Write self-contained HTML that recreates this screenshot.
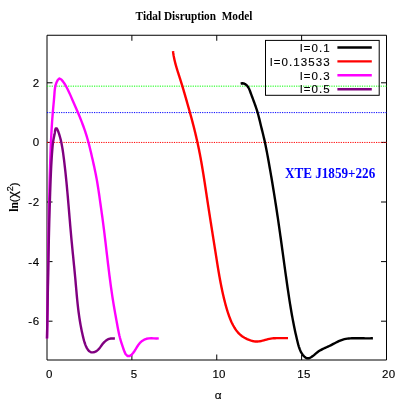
<!DOCTYPE html>
<html><head><meta charset="utf-8"><title>Tidal Disruption Model</title>
<style>html,body{margin:0;padding:0;background:#fff;}svg{display:block;will-change:transform;}</style></head>
<body>
<svg width="409" height="409" viewBox="0 0 409 409">
<path d="M47.00 35.25H386.50V360.00H47.00Z" fill="none" stroke="#000" stroke-width="1"/>
<path d="M131.88 360.00v-5.5M131.88 35.25v5.5M216.75 360.00v-5.5M216.75 35.25v5.5M301.62 360.00v-5.5M301.62 35.25v5.5M47.00 321.20h5.5M386.50 321.20h-5.5M47.00 261.60h5.5M386.50 261.60h-5.5M47.00 202.00h5.5M386.50 202.00h-5.5M47.00 142.40h5.5M386.50 142.40h-5.5M47.00 82.80h5.5M386.50 82.80h-5.5" stroke="#000" stroke-width="1" fill="none"/>
<line x1="47.0" x2="386.5" y1="86.15" y2="86.15" stroke="#00ff00" stroke-width="1" stroke-dasharray="1.2 1.15"/>
<line x1="47.0" x2="386.5" y1="112.60" y2="112.60" stroke="#0000ff" stroke-width="1" stroke-dasharray="1.2 1.15"/>
<line x1="47.0" x2="386.5" y1="142.45" y2="142.45" stroke="#ff0000" stroke-width="1" stroke-dasharray="1.2 1.15"/>
<path d="M240.64 83.59 L242.18 83.24 L243.68 83.45 L245.07 84.06 L246.30 84.96 L247.34 86.02 L248.19 87.22 L248.91 88.51 L249.53 89.88 L250.08 91.30 L250.60 92.73 L251.13 94.16 L251.66 95.58 L252.19 97.00 L252.72 98.42 L253.25 99.83 L253.77 101.24 L254.29 102.65 L254.80 104.06 L255.31 105.48 L255.80 106.89 L256.28 108.31 L256.74 109.73 L257.19 111.16 L257.62 112.60 L258.03 114.04 L258.43 115.49 L258.80 116.95 L259.17 118.41 L259.53 119.88 L259.88 121.34 L260.23 122.81 L260.58 124.28 L260.94 125.74 L261.30 127.20 L261.66 128.66 L262.03 130.12 L262.39 131.58 L262.76 133.04 L263.12 134.50 L263.47 135.96 L263.82 137.42 L264.16 138.89 L264.49 140.35 L264.82 141.82 L265.13 143.29 L265.44 144.76 L265.74 146.23 L266.04 147.71 L266.33 149.18 L266.62 150.66 L266.90 152.14 L267.18 153.62 L267.46 155.10 L267.73 156.58 L268.00 158.06 L268.27 159.54 L268.54 161.02 L268.81 162.50 L269.07 163.98 L269.33 165.46 L269.59 166.94 L269.86 168.42 L270.11 169.91 L270.37 171.39 L270.63 172.87 L270.88 174.35 L271.14 175.84 L271.39 177.32 L271.64 178.80 L271.89 180.29 L272.14 181.77 L272.39 183.25 L272.63 184.74 L272.88 186.22 L273.12 187.71 L273.36 189.19 L273.61 190.68 L273.84 192.16 L274.08 193.65 L274.32 195.13 L274.56 196.62 L274.79 198.10 L275.03 199.59 L275.26 201.07 L275.49 202.56 L275.72 204.05 L275.95 205.53 L276.18 207.02 L276.41 208.51 L276.63 209.99 L276.86 211.48 L277.08 212.97 L277.30 214.46 L277.53 215.95 L277.75 217.43 L277.97 218.92 L278.18 220.41 L278.40 221.90 L278.62 223.39 L278.83 224.88 L279.05 226.37 L279.26 227.85 L279.47 229.34 L279.68 230.83 L279.90 232.32 L280.11 233.81 L280.31 235.30 L280.52 236.79 L280.73 238.28 L280.94 239.77 L281.14 241.26 L281.35 242.75 L281.56 244.25 L281.76 245.74 L281.97 247.23 L282.17 248.72 L282.38 250.21 L282.58 251.70 L282.78 253.19 L282.99 254.68 L283.19 256.17 L283.40 257.66 L283.60 259.15 L283.81 260.64 L284.01 262.13 L284.21 263.62 L284.42 265.11 L284.63 266.60 L284.83 268.09 L285.04 269.59 L285.24 271.08 L285.45 272.57 L285.66 274.06 L285.87 275.55 L286.08 277.03 L286.29 278.52 L286.50 280.01 L286.71 281.50 L286.92 282.99 L287.13 284.48 L287.35 285.97 L287.56 287.46 L287.78 288.95 L288.00 290.43 L288.22 291.92 L288.44 293.41 L288.66 294.90 L288.89 296.38 L289.11 297.87 L289.34 299.36 L289.57 300.84 L289.81 302.33 L290.04 303.81 L290.28 305.30 L290.53 306.78 L290.77 308.26 L291.02 309.75 L291.27 311.23 L291.53 312.71 L291.79 314.19 L292.05 315.67 L292.32 317.15 L292.60 318.63 L292.87 320.11 L293.15 321.59 L293.44 323.07 L293.73 324.54 L294.02 326.02 L294.33 327.50 L294.63 328.97 L294.94 330.44 L295.26 331.92 L295.58 333.39 L295.91 334.86 L296.25 336.33 L296.59 337.80 L296.93 339.27 L297.29 340.74 L297.65 342.20 L298.02 343.67 L298.41 345.13 L298.83 346.57 L299.29 348.00 L299.81 349.40 L300.39 350.78 L301.06 352.12 L301.82 353.42 L302.67 354.67 L303.65 355.88 L304.74 356.98 L305.94 357.84 L307.24 358.31 L308.62 358.28 L310.04 357.80 L311.44 357.01 L312.77 356.07 L313.99 355.09 L315.15 354.09 L316.28 353.12 L317.43 352.20 L318.63 351.35 L319.87 350.56 L321.15 349.84 L322.46 349.15 L323.80 348.50 L325.16 347.86 L326.54 347.24 L327.92 346.61 L329.29 345.97 L330.66 345.30 L332.02 344.61 L333.37 343.90 L334.71 343.19 L336.06 342.49 L337.41 341.81 L338.77 341.16 L340.14 340.57 L341.54 340.03 L342.95 339.57 L344.39 339.19 L345.84 338.90 L347.32 338.67 L348.82 338.50 L350.32 338.39 L351.83 338.31 L353.34 338.27 L354.85 338.24 L356.36 338.23 L357.87 338.24 L359.37 338.25 L360.87 338.27 L362.37 338.29 L363.87 338.31 L365.37 338.33 L366.88 338.34 L368.38 338.34 L369.89 338.33 L371.39 338.31 L372.91 338.26" fill="none" stroke="#000" stroke-width="2.4" stroke-linejoin="round" stroke-linecap="butt"/>
<path d="M173.02 51.19 L173.19 52.63 L173.39 54.05 L173.61 55.47 L173.87 56.89 L174.15 58.29 L174.45 59.70 L174.77 61.09 L175.12 62.48 L175.48 63.87 L175.85 65.25 L176.25 66.63 L176.65 68.00 L177.06 69.38 L177.49 70.75 L177.92 72.12 L178.35 73.48 L178.79 74.85 L179.23 76.22 L179.68 77.58 L180.11 78.95 L180.55 80.32 L180.98 81.69 L181.41 83.06 L181.83 84.43 L182.25 85.80 L182.67 87.17 L183.08 88.55 L183.49 89.92 L183.89 91.30 L184.29 92.67 L184.70 94.05 L185.09 95.43 L185.49 96.81 L185.89 98.19 L186.28 99.57 L186.67 100.95 L187.06 102.33 L187.45 103.71 L187.84 105.09 L188.23 106.47 L188.62 107.85 L189.01 109.23 L189.40 110.61 L189.78 111.99 L190.17 113.38 L190.55 114.76 L190.93 116.14 L191.31 117.53 L191.68 118.91 L192.05 120.30 L192.42 121.68 L192.79 123.07 L193.15 124.46 L193.51 125.85 L193.86 127.24 L194.21 128.63 L194.56 130.02 L194.90 131.42 L195.24 132.81 L195.57 134.21 L195.90 135.60 L196.23 137.00 L196.55 138.40 L196.87 139.80 L197.18 141.20 L197.49 142.60 L197.80 144.00 L198.10 145.40 L198.39 146.80 L198.68 148.21 L198.97 149.61 L199.25 151.02 L199.53 152.43 L199.81 153.83 L200.08 155.24 L200.34 156.65 L200.61 158.06 L200.86 159.47 L201.12 160.89 L201.37 162.30 L201.62 163.71 L201.86 165.13 L202.10 166.54 L202.34 167.95 L202.58 169.37 L202.81 170.78 L203.05 172.20 L203.28 173.62 L203.50 175.03 L203.73 176.45 L203.95 177.87 L204.17 179.29 L204.39 180.71 L204.61 182.12 L204.83 183.54 L205.05 184.96 L205.26 186.38 L205.48 187.80 L205.69 189.22 L205.91 190.64 L206.12 192.06 L206.34 193.48 L206.55 194.89 L206.76 196.31 L206.98 197.73 L207.19 199.15 L207.41 200.57 L207.62 201.99 L207.84 203.40 L208.05 204.82 L208.27 206.24 L208.49 207.66 L208.71 209.08 L208.93 210.49 L209.15 211.91 L209.37 213.33 L209.59 214.74 L209.81 216.16 L210.03 217.58 L210.25 218.99 L210.47 220.41 L210.70 221.83 L210.92 223.24 L211.14 224.66 L211.36 226.08 L211.59 227.49 L211.81 228.91 L212.03 230.33 L212.26 231.74 L212.48 233.16 L212.71 234.58 L212.93 235.99 L213.15 237.41 L213.38 238.83 L213.60 240.24 L213.83 241.66 L214.05 243.08 L214.28 244.50 L214.50 245.91 L214.72 247.33 L214.95 248.75 L215.17 250.17 L215.40 251.59 L215.62 253.00 L215.84 254.42 L216.07 255.84 L216.29 257.26 L216.51 258.68 L216.74 260.10 L216.96 261.52 L217.19 262.94 L217.41 264.35 L217.64 265.77 L217.87 267.19 L218.11 268.61 L218.34 270.02 L218.58 271.44 L218.82 272.85 L219.06 274.27 L219.31 275.68 L219.56 277.09 L219.82 278.51 L220.07 279.92 L220.34 281.33 L220.60 282.73 L220.87 284.14 L221.15 285.55 L221.43 286.95 L221.72 288.35 L222.01 289.75 L222.31 291.15 L222.61 292.55 L222.92 293.95 L223.24 295.34 L223.57 296.74 L223.90 298.13 L224.24 299.52 L224.59 300.91 L224.94 302.30 L225.31 303.69 L225.68 305.07 L226.07 306.46 L226.46 307.84 L226.86 309.23 L227.28 310.61 L227.70 311.99 L228.15 313.36 L228.61 314.73 L229.09 316.09 L229.59 317.44 L230.11 318.78 L230.65 320.11 L231.22 321.43 L231.82 322.73 L232.45 324.01 L233.11 325.28 L233.81 326.53 L234.53 327.76 L235.30 328.96 L236.11 330.13 L236.97 331.27 L237.87 332.36 L238.83 333.40 L239.85 334.39 L240.93 335.33 L242.07 336.19 L243.27 337.00 L244.53 337.74 L245.82 338.43 L247.14 339.07 L248.48 339.66 L249.84 340.19 L251.21 340.64 L252.59 341.02 L253.98 341.29 L255.39 341.46 L256.79 341.50 L258.21 341.43 L259.62 341.26 L261.02 341.00 L262.42 340.68 L263.82 340.31 L265.21 339.92 L266.61 339.54 L268.00 339.17 L269.40 338.85 L270.81 338.59 L272.23 338.40 L273.65 338.26 L275.08 338.18 L276.51 338.12 L277.95 338.10 L279.39 338.09 L280.83 338.10 L282.26 338.12 L283.70 338.13 L285.14 338.13 L286.57 338.12 L288.00 338.08" fill="none" stroke="#ff0000" stroke-width="2.4" stroke-linejoin="round" stroke-linecap="butt"/>
<path d="M46.99 338.60 L47.04 336.13 L47.09 333.66 L47.13 331.20 L47.18 328.73 L47.22 326.26 L47.27 323.79 L47.31 321.32 L47.35 318.86 L47.39 316.39 L47.43 313.92 L47.47 311.45 L47.51 308.98 L47.55 306.52 L47.58 304.05 L47.62 301.58 L47.66 299.11 L47.69 296.64 L47.73 294.18 L47.76 291.71 L47.80 289.24 L47.83 286.77 L47.86 284.30 L47.90 281.83 L47.93 279.37 L47.96 276.90 L48.00 274.43 L48.03 271.96 L48.06 269.49 L48.09 267.03 L48.13 264.56 L48.16 262.09 L48.19 259.62 L48.23 257.15 L48.26 254.68 L48.30 252.22 L48.33 249.75 L48.37 247.28 L48.40 244.81 L48.44 242.34 L48.48 239.88 L48.51 237.41 L48.55 234.94 L48.59 232.47 L48.63 230.00 L48.67 227.54 L48.71 225.07 L48.76 222.60 L48.80 220.13 L48.84 217.66 L48.89 215.20 L48.94 212.73 L48.98 210.26 L49.03 207.79 L49.08 205.32 L49.14 202.86 L49.19 200.39 L49.24 197.92 L49.30 195.45 L49.36 192.99 L49.41 190.52 L49.48 188.05 L49.54 185.58 L49.60 183.12 L49.67 180.65 L49.73 178.18 L49.80 175.71 L49.87 173.25 L49.95 170.78 L50.02 168.31 L50.10 165.84 L50.18 163.38 L50.26 160.91 L50.34 158.44 L50.43 155.98 L50.52 153.51 L50.61 151.04 L50.70 148.57 L50.80 146.11 L50.90 143.64 L51.01 141.18 L51.12 138.71 L51.24 136.24 L51.37 133.78 L51.50 131.32 L51.64 128.85 L51.79 126.39 L51.95 123.93 L52.11 121.46 L52.29 119.00 L52.48 116.54 L52.67 114.08 L52.88 111.62 L53.10 109.16 L53.32 106.71 L53.55 104.25 L53.77 101.79 L53.99 99.33 L54.20 96.87 L54.39 94.40 L54.57 91.94 L54.81 89.48 L55.17 87.04 L55.74 84.62 L56.61 82.25 L57.85 79.93 L59.47 78.53 L61.33 79.51 L63.08 81.62 L64.55 83.73 L65.82 85.84 L66.99 87.99 L68.09 90.17 L69.14 92.39 L70.15 94.63 L71.14 96.89 L72.13 99.15 L73.12 101.41 L74.11 103.67 L75.09 105.94 L76.07 108.20 L77.05 110.48 L78.02 112.75 L78.97 115.03 L79.91 117.32 L80.83 119.61 L81.73 121.91 L82.61 124.22 L83.47 126.54 L84.30 128.86 L85.10 131.19 L85.87 133.53 L86.60 135.89 L87.30 138.25 L87.97 140.62 L88.62 143.00 L89.24 145.39 L89.84 147.78 L90.42 150.18 L90.99 152.58 L91.55 154.99 L92.11 157.40 L92.66 159.80 L93.20 162.21 L93.73 164.63 L94.26 167.04 L94.77 169.45 L95.27 171.87 L95.76 174.29 L96.23 176.71 L96.68 179.14 L97.11 181.57 L97.52 184.00 L97.92 186.44 L98.30 188.87 L98.67 191.31 L99.03 193.75 L99.38 196.20 L99.72 198.64 L100.07 201.09 L100.41 203.53 L100.76 205.97 L101.10 208.42 L101.45 210.86 L101.79 213.31 L102.13 215.75 L102.47 218.20 L102.79 220.64 L103.12 223.09 L103.44 225.54 L103.75 227.99 L104.05 230.44 L104.36 232.89 L104.66 235.34 L104.95 237.79 L105.25 240.24 L105.54 242.69 L105.83 245.14 L106.12 247.59 L106.40 250.04 L106.69 252.50 L106.98 254.95 L107.27 257.40 L107.56 259.85 L107.85 262.30 L108.14 264.75 L108.44 267.21 L108.74 269.66 L109.04 272.11 L109.34 274.55 L109.66 277.00 L109.97 279.45 L110.30 281.90 L110.62 284.34 L110.96 286.79 L111.30 289.23 L111.65 291.67 L112.01 294.12 L112.38 296.56 L112.75 299.00 L113.14 301.43 L113.54 303.87 L113.94 306.31 L114.36 308.74 L114.78 311.17 L115.21 313.60 L115.65 316.03 L116.09 318.46 L116.53 320.89 L116.97 323.32 L117.41 325.74 L117.86 328.17 L118.32 330.59 L118.82 333.01 L119.36 335.42 L119.96 337.82 L120.63 340.21 L121.35 342.58 L122.10 344.90 L122.86 347.19 L123.66 349.48 L124.55 351.87 L125.67 354.26 L127.39 355.93 L129.62 356.07 L131.63 354.70 L133.29 352.80 L134.72 350.74 L136.03 348.61 L137.32 346.48 L138.69 344.44 L140.25 342.57 L142.09 340.94 L144.18 339.65 L146.47 338.77 L148.88 338.36 L151.37 338.31 L153.87 338.42 L156.36 338.50 L158.78 338.34" fill="none" stroke="#ff00ff" stroke-width="2.4" stroke-linejoin="round" stroke-linecap="butt"/>
<path d="M47.01 338.60 L47.05 336.63 L47.09 334.67 L47.12 332.70 L47.16 330.73 L47.19 328.77 L47.23 326.80 L47.27 324.83 L47.30 322.87 L47.33 320.90 L47.37 318.93 L47.40 316.97 L47.44 315.00 L47.47 313.03 L47.51 311.07 L47.54 309.10 L47.57 307.13 L47.61 305.17 L47.64 303.20 L47.67 301.23 L47.71 299.27 L47.74 297.30 L47.77 295.33 L47.81 293.37 L47.84 291.40 L47.88 289.43 L47.91 287.46 L47.94 285.50 L47.98 283.53 L48.01 281.56 L48.05 279.60 L48.08 277.63 L48.12 275.66 L48.16 273.70 L48.19 271.73 L48.23 269.76 L48.26 267.80 L48.30 265.83 L48.34 263.86 L48.38 261.90 L48.42 259.93 L48.45 257.96 L48.49 255.99 L48.53 254.03 L48.57 252.06 L48.62 250.09 L48.66 248.13 L48.70 246.16 L48.74 244.19 L48.79 242.23 L48.83 240.26 L48.87 238.29 L48.92 236.33 L48.97 234.36 L49.01 232.39 L49.06 230.43 L49.11 228.46 L49.16 226.49 L49.21 224.53 L49.26 222.56 L49.31 220.60 L49.36 218.63 L49.42 216.66 L49.47 214.70 L49.53 212.73 L49.58 210.76 L49.64 208.80 L49.70 206.83 L49.76 204.87 L49.82 202.90 L49.88 200.93 L49.95 198.97 L50.01 197.00 L50.08 195.04 L50.14 193.07 L50.21 191.11 L50.28 189.14 L50.35 187.18 L50.42 185.21 L50.49 183.24 L50.57 181.28 L50.64 179.31 L50.72 177.35 L50.80 175.38 L50.89 173.42 L50.97 171.45 L51.07 169.49 L51.16 167.52 L51.26 165.56 L51.37 163.59 L51.48 161.63 L51.60 159.66 L51.72 157.70 L51.85 155.74 L51.99 153.77 L52.14 151.81 L52.29 149.84 L52.45 147.88 L52.63 145.92 L52.84 143.96 L53.09 142.02 L53.38 140.08 L53.74 138.16 L54.15 136.26 L54.56 134.34 L54.90 132.38 L55.11 130.36 L55.72 128.40 L56.89 128.42 L57.70 130.21 L58.42 132.05 L59.07 133.93 L59.65 135.82 L60.19 137.73 L60.68 139.64 L61.12 141.55 L61.53 143.48 L61.90 145.41 L62.25 147.34 L62.56 149.28 L62.86 151.23 L63.14 153.17 L63.40 155.12 L63.66 157.07 L63.90 159.02 L64.15 160.97 L64.38 162.92 L64.61 164.88 L64.84 166.83 L65.06 168.78 L65.28 170.74 L65.49 172.69 L65.70 174.65 L65.90 176.60 L66.10 178.56 L66.29 180.52 L66.48 182.47 L66.67 184.43 L66.86 186.39 L67.04 188.35 L67.22 190.30 L67.40 192.26 L67.57 194.22 L67.75 196.18 L67.92 198.14 L68.09 200.10 L68.25 202.06 L68.42 204.02 L68.59 205.98 L68.75 207.94 L68.92 209.90 L69.08 211.86 L69.25 213.83 L69.41 215.79 L69.57 217.75 L69.74 219.71 L69.91 221.67 L70.07 223.63 L70.24 225.59 L70.41 227.55 L70.58 229.51 L70.75 231.47 L70.93 233.43 L71.10 235.39 L71.28 237.35 L71.46 239.31 L71.65 241.27 L71.83 243.23 L72.02 245.18 L72.21 247.14 L72.41 249.10 L72.60 251.06 L72.79 253.02 L72.99 254.97 L73.19 256.93 L73.38 258.89 L73.58 260.84 L73.77 262.80 L73.97 264.76 L74.16 266.72 L74.35 268.67 L74.54 270.63 L74.73 272.59 L74.92 274.55 L75.10 276.50 L75.28 278.46 L75.46 280.42 L75.63 282.38 L75.80 284.34 L75.98 286.29 L76.15 288.25 L76.32 290.21 L76.50 292.17 L76.67 294.13 L76.85 296.08 L77.04 298.04 L77.23 300.00 L77.43 301.96 L77.63 303.91 L77.85 305.87 L78.07 307.82 L78.31 309.78 L78.55 311.73 L78.81 313.69 L79.08 315.64 L79.36 317.59 L79.66 319.54 L79.98 321.49 L80.31 323.44 L80.65 325.38 L81.01 327.32 L81.39 329.25 L81.78 331.17 L82.19 333.09 L82.62 334.99 L83.06 336.89 L83.52 338.77 L84.01 340.64 L84.57 342.50 L85.21 344.37 L85.98 346.24 L86.89 348.11 L88.00 349.87 L89.34 351.31 L90.95 352.19 L92.83 352.39 L94.75 351.99 L96.49 351.12 L97.97 349.92 L99.28 348.47 L100.49 346.86 L101.67 345.21 L102.90 343.59 L104.24 342.10 L105.70 340.79 L107.29 339.72 L109.04 338.94 L110.95 338.49 L112.94 338.35 L114.89 338.43" fill="none" stroke="#800080" stroke-width="2.4" stroke-linejoin="round" stroke-linecap="butt"/>
<g font-family="'Liberation Sans', sans-serif" font-size="11.5" fill="#000" stroke="#000" stroke-width="0.15">
<text x="49.3" y="378.2" text-anchor="middle" letter-spacing="0.3">0</text>
<text x="134.2" y="378.2" text-anchor="middle" letter-spacing="0.3">5</text>
<text x="219.1" y="378.2" text-anchor="middle" letter-spacing="0.3">10</text>
<text x="303.9" y="378.2" text-anchor="middle" letter-spacing="0.3">15</text>
<text x="388.8" y="378.2" text-anchor="middle" letter-spacing="0.3">20</text>
<text x="39.8" y="325.2" text-anchor="end" letter-spacing="0.6">-6</text>
<text x="39.8" y="265.6" text-anchor="end" letter-spacing="0.6">-4</text>
<text x="39.8" y="206.0" text-anchor="end" letter-spacing="0.6">-2</text>
<text x="39.8" y="146.4" text-anchor="end" letter-spacing="0.6">0</text>
<text x="39.8" y="86.8" text-anchor="end" letter-spacing="0.6">2</text>
<text x="218.2" y="399" font-size="11.8" text-anchor="middle">α</text>
<text x="330.8" y="51.7" text-anchor="end" letter-spacing="1.1">l=0.1</text>
<text x="330.8" y="65.6" text-anchor="end" letter-spacing="1.1">l=0.13533</text>
<text x="330.8" y="79.5" text-anchor="end" letter-spacing="1.1">l=0.3</text>
<text x="330.8" y="93.4" text-anchor="end" letter-spacing="1.1">l=0.5</text>
</g>
<rect x="265.5" y="40.4" width="113.7" height="54.9" fill="none" stroke="#000" stroke-width="1"/>
<line x1="337.4" x2="371.8" y1="47.5" y2="47.5" stroke="#000" stroke-width="2.4"/>
<line x1="337.4" x2="371.8" y1="61.4" y2="61.4" stroke="#ff0000" stroke-width="2.4"/>
<line x1="337.4" x2="371.8" y1="75.3" y2="75.3" stroke="#ff00ff" stroke-width="2.4"/>
<line x1="337.4" x2="371.8" y1="89.2" y2="89.2" stroke="#800080" stroke-width="2.4"/>
<g font-family="'Liberation Serif', serif" font-weight="bold">
<text transform="translate(135.6 20.0) scale(1 1.08)" font-size="11.3" fill="#000" xml:space="preserve">Tidal Disruption  Model</text>
<text transform="translate(284.9 177.8) scale(1 1.07)" font-size="13.15" fill="#0000ff">XTE J1859+226</text>
<text transform="translate(18.3 211.8) rotate(-90)" font-size="11.6" fill="#000">ln<tspan font-family="'Liberation Sans', sans-serif" font-weight="normal" font-size="11.5" stroke="#000" stroke-width="0.2">(<tspan font-size="13.5" dy="-1">χ</tspan><tspan dy="-4.6" font-size="9">2</tspan><tspan dy="5.6">)</tspan></tspan></text>
</g>
</svg>
</body></html>
